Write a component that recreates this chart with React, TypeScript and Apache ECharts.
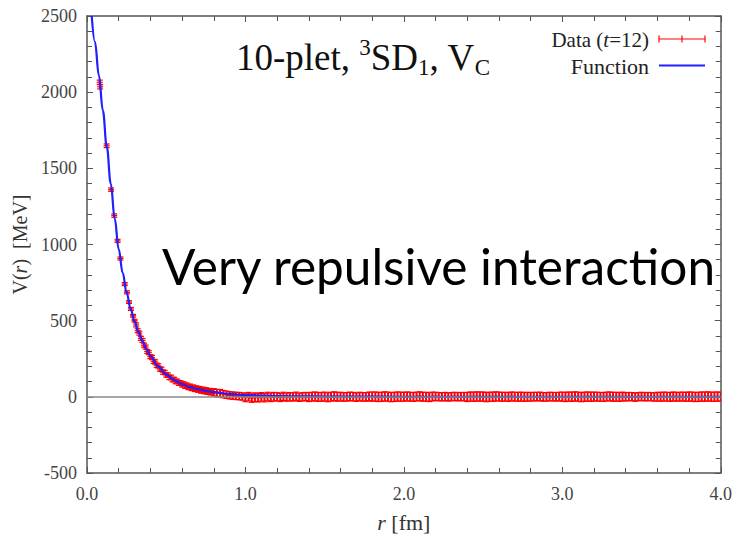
import React, { useEffect, useRef } from "react";
import * as echarts from "echarts";

// ---- Data ----
const nearR = [0.080, 0.083, 0.124, 0.152, 0.172, 0.193, 0.211, 0.238, 0.252, 0.265, 0.277, 0.291, 0.300];
const nearV = [2065, 2035, 1648, 1360, 1190, 1024, 908, 740, 686, 622, 577, 532, 500];
const nearErr = [14, 14, 12, 11, 11, 10, 10, 10, 10, 9, 10, 9, 9];

const midR = [
  0.31, 0.32, 0.33, 0.34, 0.35, 0.36, 0.37, 0.38, 0.39, 0.40,
  0.41, 0.42, 0.43, 0.44, 0.45, 0.46, 0.47, 0.48, 0.49, 0.50,
  0.51, 0.52, 0.53, 0.54, 0.55, 0.56, 0.57, 0.58, 0.59, 0.60,
  0.61, 0.62, 0.63, 0.64, 0.65, 0.66, 0.67, 0.68, 0.69, 0.70,
  0.71, 0.72, 0.73, 0.74, 0.75, 0.76, 0.77, 0.78, 0.79,
];
const midV = [
  472, 434, 418, 384, 370, 339, 327, 298, 290, 264,
  258, 233, 229, 207, 203, 183, 180, 162, 160, 144,
  142, 128, 127, 114, 113, 101, 101, 90, 91, 80,
  82, 72, 74, 64, 67, 58, 61, 52, 55, 47,
  50, 42, 46, 38, 42, 34, 38, 30, 35,
];
const midErrBand = [13, 14, 15, 17, 18];

const tailR = [
  0.80, 0.82, 0.84, 0.86, 0.88, 0.90, 0.92, 0.94, 0.96, 0.98,
  1.00, 1.02, 1.04, 1.06, 1.08, 1.10, 1.12, 1.14, 1.16, 1.18,
  1.20, 1.22, 1.24, 1.26, 1.28, 1.30, 1.32, 1.34, 1.36, 1.38,
  1.40, 1.42, 1.44, 1.46, 1.48, 1.50, 1.52, 1.54, 1.56, 1.58,
  1.60, 1.62, 1.64, 1.66, 1.68, 1.70, 1.72, 1.74, 1.76, 1.78,
  1.80, 1.82, 1.84, 1.86, 1.88, 1.90, 1.92, 1.94, 1.96, 1.98,
  2.00, 2.02, 2.04, 2.06, 2.08, 2.10, 2.12, 2.14, 2.16, 2.18,
  2.20, 2.22, 2.24, 2.26, 2.28, 2.30, 2.32, 2.34, 2.36, 2.38,
  2.40, 2.42, 2.44, 2.46, 2.48, 2.50, 2.52, 2.54, 2.56, 2.58,
  2.60, 2.62, 2.64, 2.66, 2.68, 2.70, 2.72, 2.74, 2.76, 2.78,
  2.80, 2.82, 2.84, 2.86, 2.88, 2.90, 2.92, 2.94, 2.96, 2.98,
  3.00, 3.02, 3.04, 3.06, 3.08, 3.10, 3.12, 3.14, 3.16, 3.18,
  3.20, 3.22, 3.24, 3.26, 3.28, 3.30, 3.32, 3.34, 3.36, 3.38,
  3.40, 3.42, 3.44, 3.46, 3.48, 3.50, 3.52, 3.54, 3.56, 3.58,
  3.60, 3.62, 3.64, 3.66, 3.68, 3.70, 3.72, 3.74, 3.76, 3.78,
  3.80, 3.82, 3.84, 3.86, 3.88, 3.90, 3.92, 3.94, 3.96, 3.98,
  4.00,
];
const tailV = [
  30, 25, 24, 18, 14, 10, 8, 6, 5, 2,
  -4, 1, -8, -2, -6, 0, -5, 2, -3, 1,
  0, -4, 3, -2, 1, -1, 4, -3, 0, 2,
  -2, 1, 3, -1, 0, 2, -3, 1, 4, 0,
  2, -1, 0, 3, 1, -2, 2, 0, -1, 3,
  1, 2, -1, 0, 3, 1, -2, 0, 2, 1,
  0, 3, 1, -1, 2, 4, 0, 1, -2, 2,
  3, 1, 0, 2, -1, 1, 3, 0, 2, 1,
  -1, 2, 0, 3, 1, 2, -2, 1, 0, 3,
  2, 0, 1, -1, 3, 1, 0, 2, -1, 1,
  0, 2, 1, 3, -1, 0, 2, 1, 0, 2,
  1, -1, 2, 0, 3, 1, -2, 1, 2, 0,
  2, 1, 0, -1, 2, 3, 0, 1, -1, 2,
  0, 2, 1, -2, 1, 3, 0, 2, 1, -1,
  1, 0, 2, 1, -1, 3, 0, 1, 2, 0,
  2, 1, -1, 0, 2, 1, 3, 0, 1, 2,
  1,
];
const tailErrBand = [24, 28, 27, 29, 28, 30, 29, 27, 30, 29, 28, 30, 29, 27, 29, 30, 29];

const funcR = [0.03, 0.05, 0.075, 0.1, 0.125, 0.15, 0.175, 0.2, 0.225, 0.25, 0.275, 0.3, 0.325, 0.35, 0.375, 0.4, 0.45, 0.5, 0.55, 0.6, 0.65, 0.7, 0.75, 0.8, 0.9, 1.0, 1.1, 1.2, 1.4, 1.6, 2.0, 3.0, 4.0];
const funcV = [2500, 2330, 2110, 1880, 1640, 1400, 1170, 970, 815, 685, 580, 495, 425, 365, 312, 268, 198, 147, 110, 83, 64, 50, 39, 31, 19, 12, 8, 5, 2.5, 1.5, 0.7, 0.2, 0];

const X_MIN = 0, X_MAX = 4, X_STEP = 1;
const Y_MIN = -500, Y_MAX = 2500, Y_STEP = 500;

const SERIF = "Liberation Serif";
const RED = "#ff0000";
const BLUE = "#1f1fff";

export default function App() {
  const ref = useRef<HTMLDivElement>(null);

  useEffect(() => {
    if (!ref.current) return;
    const chart = echarts.init(ref.current, undefined, { renderer: "svg" });

    const points: number[][] = [];
    nearR.forEach((r, i) => points.push([r, nearV[i], nearErr[i]]));
    midR.forEach((r, i) => points.push([r, midV[i], midErrBand[Math.floor(i / 10)]]));
    tailR.forEach((r, i) => points.push([r, tailV[i], tailErrBand[Math.floor(i / 10)]]));

    const funcData = funcR.map((r, i) => [r, funcV[i]]);

    const axisLine = { show: true, onZero: false, lineStyle: { color: "#555", width: 1.5 } };
    const tickStyle = { color: "#555", width: 1 };
    const labelRich = { t: { color: "#444", fontFamily: SERIF, fontSize: 18 } };

    const option: any = {
      animation: false,
      backgroundColor: "#fff",
      grid: { left: 87, right: 12, top: 16, bottom: 64, containLabel: false },
      xAxis: [
        {
          type: "value", min: X_MIN, max: X_MAX, interval: X_STEP, position: "bottom",
          axisLine,
          axisTick: { show: true, inside: true, length: 6, lineStyle: tickStyle },
          minorTick: { show: true, splitNumber: 5, length: 5, lineStyle: tickStyle },
          splitLine: { show: false },
          axisLabel: {
            color: "#444", fontFamily: SERIF, fontSize: 18,
            margin: 12,
            rich: labelRich,
            formatter: (v: number) => "{t|" + v.toFixed(1) + "}",
          },
          name: "{i|r}{n| [fm]}",
          nameLocation: "middle",
          nameGap: 38,
          nameTextStyle: {
            color: "#333", fontFamily: SERIF, fontSize: 22,
            rich: {
              i: { fontFamily: SERIF, fontSize: 22, fontStyle: "italic", color: "#333" },
              n: { fontFamily: SERIF, fontSize: 22, color: "#333" },
            },
          },
        },
        {
          type: "value", min: X_MIN, max: X_MAX, interval: X_STEP, position: "top",
          axisLine,
          axisTick: { show: true, inside: true, length: 6, lineStyle: tickStyle },
          minorTick: { show: true, splitNumber: 5, length: 5, lineStyle: tickStyle },
          splitLine: { show: false },
          axisLabel: { show: false },
        },
      ],
      yAxis: [
        {
          type: "value", min: Y_MIN, max: Y_MAX, interval: Y_STEP, position: "left",
          axisLine,
          axisTick: { show: true, inside: true, length: 6, lineStyle: tickStyle },
          minorTick: { show: true, splitNumber: 5, length: 5, lineStyle: tickStyle },
          splitLine: { show: false },
          axisLabel: {
            color: "#444", fontFamily: SERIF, fontSize: 18,
            margin: 10,
            rich: labelRich,
            formatter: (v: number) => "{t|" + String(v) + "}",
          },
          name: "{n|V(}{i|r}{n|)  [MeV]}",
          nameLocation: "middle",
          nameRotate: 90,
          nameGap: 45,
          nameTextStyle: {
            color: "#333", fontFamily: SERIF, fontSize: 20,
            rich: {
              i: { fontFamily: SERIF, fontSize: 20, fontStyle: "italic", color: "#333" },
              n: { fontFamily: SERIF, fontSize: 20, color: "#333" },
            },
          },
        },
        {
          type: "value", min: Y_MIN, max: Y_MAX, interval: Y_STEP, position: "right",
          axisLine,
          axisTick: { show: true, inside: true, length: 6, lineStyle: tickStyle },
          minorTick: { show: true, splitNumber: 5, length: 5, lineStyle: tickStyle },
          splitLine: { show: false },
          axisLabel: { show: false },
        },
      ],
      series: [
        {
          type: "line",
          name: "zero",
          data: [],
          z: 1,
          silent: true,
          markLine: {
            silent: true,
            symbol: ["none", "none"],
            label: { show: false },
            lineStyle: { color: "#888", width: 1.5, type: "solid" },
            data: [{ yAxis: 0 }],
          },
        },
        {
          type: "custom",
          name: "Data (t=12)",
          z: 2,
          clip: true,
          data: points,
          encode: { x: 0, y: 1 },
          renderItem: (_params: any, api: any) => {
            const x = api.value(0);
            const y = api.value(1);
            const e = api.value(2);
            const top = api.coord([x, y + e]);
            const bot = api.coord([x, y - e]);
            const mid = api.coord([x, y]);
            const hw = 3;
            const bar = { stroke: RED, lineWidth: 2, fill: null };
            const cap = { stroke: RED, lineWidth: 1.2, fill: null };
            return {
              type: "group",
              children: [
                { type: "line", shape: { x1: top[0], y1: top[1], x2: bot[0], y2: bot[1] }, style: bar },
                { type: "line", shape: { x1: top[0] - hw, y1: top[1], x2: top[0] + hw, y2: top[1] }, style: cap },
                { type: "line", shape: { x1: bot[0] - hw, y1: bot[1], x2: bot[0] + hw, y2: bot[1] }, style: cap },
                { type: "line", shape: { x1: mid[0] - hw, y1: mid[1], x2: mid[0] + hw, y2: mid[1] }, style: cap },
              ],
            };
          },
        },
        {
          type: "line",
          name: "Function",
          z: 3,
          data: funcData,
          showSymbol: false,
          smooth: 0.4,
          smoothMonotone: "x",
          clip: true,
          lineStyle: { color: BLUE, width: 2.2 },
        },
      ],
      graphic: [
        {
          type: "text",
          x: 236,
          y: 36,
          style: {
            text: "{n|10-plet, }{sup|3}{n|SD}{sub|1}{n|, V}{sub|C}",
            fill: "#111",
            verticalAlign: "top",
            rich: {
              n: { fontFamily: SERIF, fontSize: 37, lineHeight: 43, fill: "#111", verticalAlign: "middle" },
              sup: { fontFamily: SERIF, fontSize: 23, lineHeight: 43, fill: "#111", verticalAlign: "top" },
              sub: { fontFamily: SERIF, fontSize: 23, lineHeight: 15, fill: "#111", verticalAlign: "bottom" },
            },
          },
        },
        {
          type: "text",
          x: 649,
          y: 40,
          style: {
            text: "{n|Data (}{i|t}{n|=12)}",
            align: "right",
            verticalAlign: "middle",
            rich: {
              n: { fontFamily: SERIF, fontSize: 21, fill: "#222" },
              i: { fontFamily: SERIF, fontSize: 21, fontStyle: "italic", fill: "#222" },
            },
          },
        },
        {
          type: "text",
          x: 649,
          y: 66,
          style: {
            text: "Function",
            align: "right",
            verticalAlign: "middle",
            fontFamily: SERIF,
            fontSize: 22,
            fill: "#222",
          },
        },
        { type: "line", shape: { x1: 659, y1: 39, x2: 705, y2: 39 }, style: { stroke: RED, lineWidth: 1.2 } },
        { type: "line", shape: { x1: 659, y1: 35.5, x2: 659, y2: 42.5 }, style: { stroke: RED, lineWidth: 1.2 } },
        { type: "line", shape: { x1: 682, y1: 35.5, x2: 682, y2: 42.5 }, style: { stroke: RED, lineWidth: 1.2 } },
        { type: "line", shape: { x1: 705, y1: 35.5, x2: 705, y2: 42.5 }, style: { stroke: RED, lineWidth: 1.2 } },
        { type: "line", shape: { x1: 659, y1: 65.5, x2: 705, y2: 65.5 }, style: { stroke: BLUE, lineWidth: 2 } },
        {
          type: "text",
          x: 162,
          y: 266,
          z: 10,
          style: {
            text: "Very repulsive interaction",
            fontFamily: "Lato",
            fontSize: 49.5,
            fill: "#000",
            verticalAlign: "middle",
          },
        },
      ],
    };

    chart.setOption(option);
    return () => chart.dispose();
  }, []);

  return (
    <div
      ref={ref}
      style={{ position: "fixed", left: 0, top: 0, width: 735, height: 538, background: "#fff" }}
    />
  );
}
